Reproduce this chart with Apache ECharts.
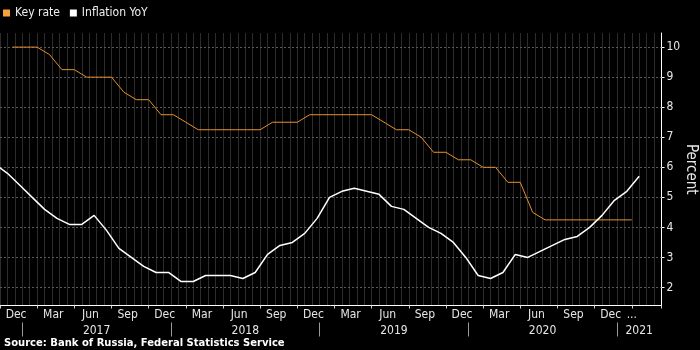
<!DOCTYPE html>
<html><head><meta charset="utf-8">
<script src="https://cdn.jsdelivr.net/npm/echarts@6/dist/echarts.min.js"></script>
<style>html,body{margin:0;padding:0;background:#000}#c{width:700px;height:350px}</style>
</head><body><div id="c"></div>
<script>
// ---- data ----
const keyRateMonths = ['2016-12',
  '2017-01','2017-02','2017-03','2017-04','2017-05','2017-06','2017-07','2017-08','2017-09','2017-10','2017-11','2017-12',
  '2018-01','2018-02','2018-03','2018-04','2018-05','2018-06','2018-07','2018-08','2018-09','2018-10','2018-11','2018-12',
  '2019-01','2019-02','2019-03','2019-04','2019-05','2019-06','2019-07','2019-08','2019-09','2019-10','2019-11','2019-12',
  '2020-01','2020-02','2020-03','2020-04','2020-05','2020-06','2020-07','2020-08','2020-09','2020-10','2020-11','2020-12',
  '2021-01','2021-02'];
const keyRate = [10,
  10,10,9.75,9.25,9.25,9.0,9.0,9.0,8.5,8.25,8.25,7.75,
  7.75,7.5,7.25,7.25,7.25,7.25,7.25,7.25,7.5,7.5,7.5,7.75,
  7.75,7.75,7.75,7.75,7.75,7.5,7.25,7.25,7.0,6.5,6.5,6.25,
  6.25,6.0,6.0,5.5,5.5,4.5,4.25,4.25,4.25,4.25,4.25,4.25,
  4.25,4.25];
const inflationMonths = ['2016-10','2016-11','2016-12',
  '2017-01','2017-02','2017-03','2017-04','2017-05','2017-06','2017-07','2017-08','2017-09','2017-10','2017-11','2017-12',
  '2018-01','2018-02','2018-03','2018-04','2018-05','2018-06','2018-07','2018-08','2018-09','2018-10','2018-11','2018-12',
  '2019-01','2019-02','2019-03','2019-04','2019-05','2019-06','2019-07','2019-08','2019-09','2019-10','2019-11','2019-12',
  '2020-01','2020-02','2020-03','2020-04','2020-05','2020-06','2020-07','2020-08','2020-09','2020-10','2020-11','2020-12',
  '2021-01','2021-02'];
const inflation = [6.1,5.8,5.4,
  5.0,4.6,4.3,4.1,4.1,4.4,3.9,3.3,3.0,2.7,2.5,2.5,
  2.2,2.2,2.4,2.4,2.4,2.3,2.5,3.1,3.4,3.5,3.8,4.3,
  5.0,5.2,5.3,5.2,5.1,4.7,4.6,4.3,4.0,3.8,3.5,3.0,
  2.4,2.3,2.5,3.1,3.0,3.2,3.4,3.6,3.7,4.0,4.4,4.9,
  5.2,5.7];
const monthTickMonths = ['2016-12','2017-03','2017-06','2017-09','2017-12','2018-03','2018-06','2018-09','2018-12',
  '2019-03','2019-06','2019-09','2019-12','2020-03','2020-06','2020-09','2020-12'];
const monthTickLabels = ['Dec','Mar','Jun','Sep','Dec','Mar','Jun','Sep','Dec','Mar','Jun','Sep','Dec','Mar','Jun','Sep','Dec'];
const yearLabels = ['2017','2018','2019','2020','2021'];
const yTickLabels = [2,3,4,5,6,7,8,9,10];
const sourceText = 'Source: Bank of Russia, Federal Statistics Service';

// ---- helpers ----
const FONT = "'DejaVu Sans Condensed','DejaVu Sans',sans-serif";
const KEY_DAY = 0.2;   // key rate observation early in month
const CPI_DAY = 0.8;   // CPI observation late in month
function monthIndex(s){const p=s.split('-').map(Number);return (p[0]-2017)*12+(p[1]-1);}
const keyData = keyRateMonths.map((m,i)=>[monthIndex(m)+KEY_DAY, keyRate[i]]);
const cpiData = inflationMonths.map((m,i)=>[monthIndex(m)+CPI_DAY, inflation[i]]);
const monthLabelPos = monthTickMonths.map(m=>monthIndex(m)+0.5).concat([49.2]);
const monthLabelTxt = monthTickLabels.concat(['...']);
const yearPos = yearLabels.map((y,i)=> i<yearLabels.length-1 ? (Number(y)-2017)*12+6 : 49.8);
const yearSep = yearLabels.map(y=>(Number(y)-2017)*12);
function lookup(pos, txt, v){for(let i=0;i<pos.length;i++){if(Math.abs(pos[i]-v)<0.01)return txt[i];}return '';}

const XMIN=-1.8, XMAX=51.6;
const chart = echarts.init(document.getElementById('c'));
chart.setOption({
  backgroundColor:'#000',
  animation:false,
  title:{text:sourceText,left:4,top:338,padding:0,textStyle:{color:'#fff',fontSize:10,fontWeight:'bold',fontFamily:"'DejaVu Sans',sans-serif"}},
  legend:{left:3,top:7,padding:0,icon:'rect',itemWidth:7,itemHeight:7,itemGap:10,
    textStyle:{color:'#eee',fontSize:12,fontFamily:FONT},data:['Key rate','Inflation YoY']},
  grid:{left:0,right:38.5,top:33,bottom:44.5,containLabel:false,outerBoundsMode:'none'},
  xAxis:[{
    type:'value',min:XMIN,max:XMAX,interval:3,
    axisLine:{onZero:false,lineStyle:{color:'#fff',width:1}},
    axisTick:{show:true,length:3,lineStyle:{color:'#ccc'}},
    axisLabel:{customValues:monthLabelPos,formatter:v=>lookup(monthLabelPos,monthLabelTxt,v),color:'#e6e6e6',fontSize:12,fontFamily:FONT,margin:3},
    splitLine:{show:true,lineStyle:{color:'#2c2c2c',type:'solid',width:1}},
    minorTick:{show:false,splitNumber:5},
    minorSplitLine:{show:true,lineStyle:{color:'#2c2c2c',type:'solid',width:1}}
  },{
    type:'value',min:XMIN,max:XMAX,position:'bottom',offset:17,
    axisLine:{show:false,onZero:false},
    axisTick:{show:true,customValues:yearSep,length:14,lineStyle:{color:'#999'}},
    axisLabel:{customValues:yearPos,formatter:v=>lookup(yearPos,yearLabels,v),color:'#e6e6e6',fontSize:12,fontFamily:FONT,margin:2},
    splitLine:{show:false}
  }],
  yAxis:{
    type:'value',position:'right',min:1.4,max:10.47,
    name:'Percent',nameLocation:'middle',nameRotate:-90,nameGap:22,nameMoveOverlap:false,
    nameTextStyle:{color:'#e6e6e6',fontSize:15,fontFamily:FONT},
    axisLine:{show:true,onZero:false,lineStyle:{color:'#fff'}},
    axisTick:{show:true,customValues:yTickLabels,length:3,lineStyle:{color:'#fff'}},
    axisLabel:{customValues:yTickLabels,color:'#e6e6e6',fontSize:12,fontFamily:FONT,margin:5},
    splitLine:{show:false}
  },
  series:[
    {name:'Key rate',type:'line',data:keyData,showSymbol:false,xAxisIndex:0,z:3,
     itemStyle:{color:'#f7a13a'},lineStyle:{color:'#e8902c',width:1},
     markLine:{silent:true,symbol:'none',label:{show:false},animation:false,z:1,
       lineStyle:{color:'#5a5a5a',type:[2,2],width:1},
       data:yTickLabels.map(v=>({yAxis:v}))}},
    {name:'Inflation YoY',type:'line',data:cpiData,showSymbol:false,xAxisIndex:0,z:4,
     itemStyle:{color:'#ffffff'},lineStyle:{color:'#ffffff',width:1.5}}
  ]
});
</script></body></html>
